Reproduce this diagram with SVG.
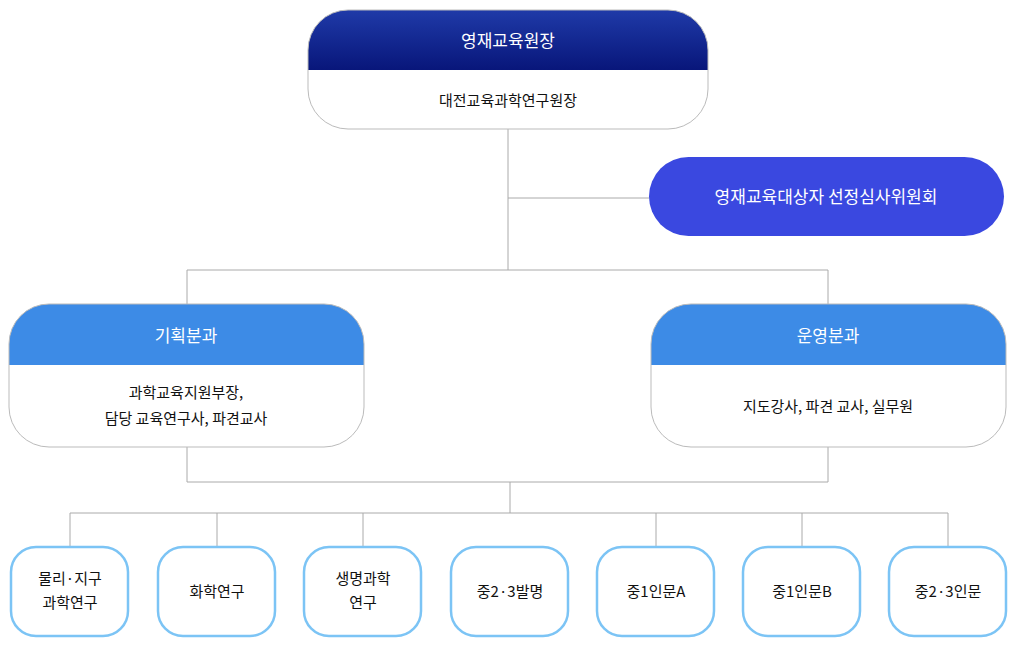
<svg xmlns="http://www.w3.org/2000/svg" width="1015" height="646" viewBox="0 0 1015 646">
<defs>
<linearGradient id="g1" x1="0" y1="0" x2="0" y2="1"><stop offset="0" stop-color="#1f3aa8"/><stop offset="1" stop-color="#08167a"/></linearGradient>
<clipPath id="c1"><rect x="308" y="10" width="400" height="119" rx="40"/></clipPath>
<clipPath id="c2"><rect x="9" y="304" width="355" height="143" rx="40"/></clipPath>
<clipPath id="c3"><rect x="651" y="304" width="355" height="143" rx="40"/></clipPath>
</defs>
<style>
text{font-family:"Noto Sans CJK KR","Noto Sans",sans-serif;text-anchor:middle}
.w{fill:#fff;font-size:17px}
.b{fill:#111;font-size:15px}
.s{fill:#111;font-size:15px}
.leaf{fill:#fff;stroke:#7cc4f5;stroke-width:2.5}
.out{fill:none;stroke:#bbb;stroke-width:1}
#conn path{fill:none;stroke:#aaa;stroke-width:1}
</style>
<rect width="1015" height="646" fill="#fff"/>
<g id="conn">
<path d="M508 129V270M508 198H649M187 304V270H828V304M187 447V482H828V447M510 482V513M70 547V513H948V547M217 513V547M363 513V547M656 513V547M802 513V547"/>
</g>
<g id="top">
<rect x="308" y="10" width="400" height="119" rx="40" fill="#fff"/>
<rect x="308" y="10" width="400" height="60" fill="url(#g1)" clip-path="url(#c1)"/>
<rect x="308" y="10" width="400" height="119" rx="40" class="out"/>
<text x="508" y="47" class="w">영재교육원장</text>
<text x="508" y="106" class="b">대전교육과학연구원장</text>
</g>
<g id="committee">
<rect x="649" y="157" width="355" height="79" rx="39.5" fill="#3a48e0"/>
<text x="826" y="203" class="w">영재교육대상자 선정심사위원회</text>
</g>
<g id="plan">
<rect x="9" y="304" width="355" height="143" rx="40" fill="#fff"/>
<rect x="9" y="304" width="355" height="61" fill="#3d8be6" clip-path="url(#c2)"/>
<rect x="9" y="304" width="355" height="143" rx="40" class="out"/>
<text x="186" y="342" class="w">기획분과</text>
<text x="186" y="398" class="s">과학교육지원부장,</text>
<text x="186" y="424" class="s">담당 교육연구사, 파견교사</text>
</g>
<g id="ops">
<rect x="651" y="304" width="355" height="143" rx="40" fill="#fff"/>
<rect x="651" y="304" width="355" height="61" fill="#3d8be6" clip-path="url(#c3)"/>
<rect x="651" y="304" width="355" height="143" rx="40" class="out"/>
<text x="828" y="342" class="w">운영분과</text>
<text x="828" y="412" class="s">지도강사, 파견 교사, 실무원</text>
</g>
<g id="l1"><rect x="11" y="547" width="117" height="89" rx="25" class="leaf"/><text x="70" y="584" class="s">물리·지구</text><text x="70" y="608" class="s">과학연구</text></g>
<g id="l2"><rect x="158" y="547" width="117" height="89" rx="25" class="leaf"/><text x="217" y="597" class="s">화학연구</text></g>
<g id="l3"><rect x="304" y="547" width="117" height="89" rx="25" class="leaf"/><text x="363" y="584" class="s">생명과학</text><text x="363" y="608" class="s">연구</text></g>
<g id="l4"><rect x="451" y="547" width="117" height="89" rx="25" class="leaf"/><text x="510" y="597" class="s">중2·3발명</text></g>
<g id="l5"><rect x="597" y="547" width="117" height="89" rx="25" class="leaf"/><text x="656" y="597" class="s">중1인문A</text></g>
<g id="l6"><rect x="743" y="547" width="117" height="89" rx="25" class="leaf"/><text x="802" y="597" class="s">중1인문B</text></g>
<g id="l7"><rect x="889" y="547" width="117" height="89" rx="25" class="leaf"/><text x="948" y="597" class="s">중2·3인문</text></g>
</svg>
